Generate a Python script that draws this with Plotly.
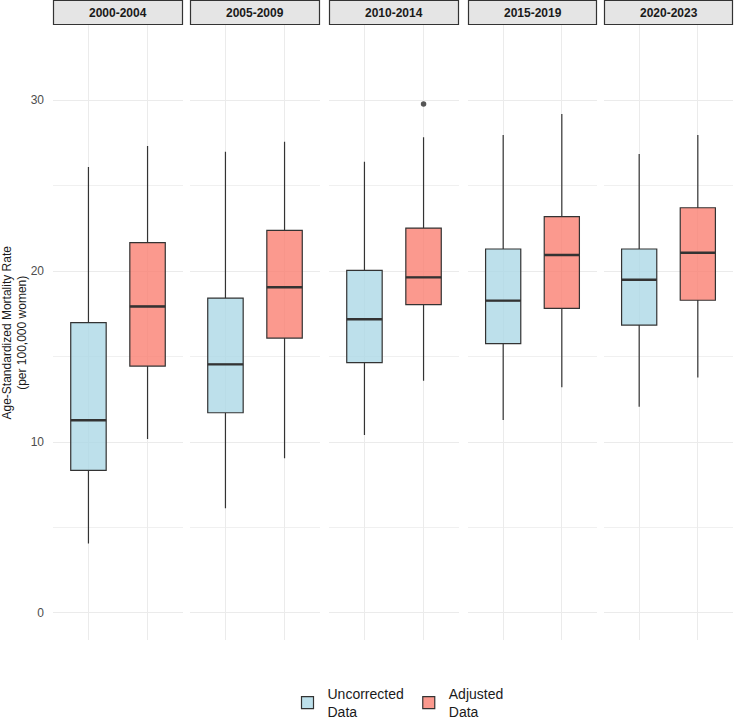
import plotly.graph_objects as go

periods = ["2000-2004", "2005-2009", "2010-2014", "2015-2019", "2020-2023"]
groups = ["Uncorrected Data", "Adjusted Data"]
legend_labels = ["Uncorrected<br>Data", "Adjusted<br>Data"]

unc_low = [4.07, 6.12, 10.41, 11.29, 12.06]
unc_q1 = [8.34, 11.71, 14.64, 15.75, 16.84]
unc_med = [11.27, 14.54, 17.18, 18.27, 19.49]
unc_q3 = [16.98, 18.42, 20.04, 21.29, 21.29]
unc_high = [26.08, 26.98, 26.39, 27.95, 26.84]

adj_low = [10.18, 9.05, 13.58, 13.20, 13.78]
adj_q1 = [14.44, 16.08, 18.03, 17.82, 18.29]
adj_med = [17.93, 19.05, 19.63, 20.94, 21.07]
adj_q3 = [21.66, 22.38, 22.51, 23.18, 23.70]
adj_high = [27.31, 27.56, 27.82, 29.18, 27.95]

outlier_period = ["2010-2014"]
outlier_group = ["Adjusted Data"]
outlier_value = [29.77]

y_ticks = [0, 10, 20, 30]

fills = ["rgba(173,216,230,0.8)", "rgba(250,128,114,0.8)"]
W, H = 735, 719
panel_px = [(53, 183), (190, 320), (329, 459), (468, 597), (604, 733)]
top_px, strip_px, bottom_px = 0, 25, 640
font_family = "Liberation Sans, Arial, sans-serif"

stats = {
    groups[0]: (unc_low, unc_q1, unc_med, unc_q3, unc_high),
    groups[1]: (adj_low, adj_q1, adj_med, adj_q3, adj_high),
}

fig = go.Figure()
layout = {}
shapes = []
annotations = []
box_w = 0.6

for i, period in enumerate(periods):
    k = i + 1
    xa = "x" if k == 1 else f"x{k}"
    ya = "y" if k == 1 else f"y{k}"
    for gi, g in enumerate(groups):
        low, q1, med, q3, high = stats[g]
        pos = gi + 1
        fig.add_trace(go.Box(
            x=[pos], q1=[q1[i]], median=[med[i]], q3=[q3[i]],
            lowerfence=[low[i]], upperfence=[high[i]],
            width=box_w, fillcolor=fills[gi],
            line=dict(color="#333333", width=1.2), whiskerwidth=0,
            name=legend_labels[gi], legendgroup=g, showlegend=(i == 0),
            boxpoints=False, xaxis=xa, yaxis=ya, hoverinfo="skip",
        ))
        fig.add_trace(go.Scatter(
            x=[pos - box_w / 2, pos + box_w / 2], y=[med[i], med[i]],
            mode="lines", line=dict(color="#333333", width=2.4),
            showlegend=False, hoverinfo="skip", xaxis=xa, yaxis=ya,
        ))
        ox = [gi + 1 for p, og in zip(outlier_period, outlier_group) if p == period and og == g]
        oy = [v for p, og, v in zip(outlier_period, outlier_group, outlier_value) if p == period and og == g]
        if ox:
            fig.add_trace(go.Scatter(
                x=ox, y=oy, mode="markers",
                marker=dict(color="#555555", size=5.5),
                showlegend=False, hoverinfo="skip", xaxis=xa, yaxis=ya,
            ))
    x0, x1 = panel_px[i]
    layout["xaxis" if k == 1 else f"xaxis{k}"] = dict(
        domain=[x0 / W, x1 / W], anchor=ya, range=[0.4, 2.6],
        tickvals=[1, 2], showticklabels=False, showgrid=True,
        gridcolor="#ebebeb", gridwidth=1, zeroline=False, showline=False, ticks="",
    )
    ydict = dict(
        domain=[1 - bottom_px / H, 1 - strip_px / H], anchor=xa,
        range=[-1.58, 34.39], tickvals=y_ticks, showgrid=True,
        gridcolor="#ebebeb", gridwidth=1, zeroline=False, showline=False, ticks="",
        minor=dict(dtick=5, tick0=0, showgrid=True, gridcolor="#f0f0f0", gridwidth=1),
        showticklabels=(k == 1), automargin=False,
        tickfont=dict(family=font_family, size=12, color="#4d4d4d"),
    )
    if k > 1:
        ydict["matches"] = "y"
    layout["yaxis" if k == 1 else f"yaxis{k}"] = ydict
    shapes.append(dict(
        type="rect", xref="paper", yref="paper",
        x0=(x0 + 0.5) / W, x1=(x1 - 0.5) / W,
        y0=1 - (strip_px - 0.5) / H, y1=1 - 0.5 / H,
        fillcolor="#e5e5e5", line=dict(color="#333333", width=1.2), layer="above",
    ))
    annotations.append(dict(
        text=f"<b>{period}</b>", xref="paper", yref="paper",
        x=(x0 + x1) / 2 / W, y=1 - strip_px / 2 / H, showarrow=False,
        xanchor="center", yanchor="middle",
        font=dict(family=font_family, size=12, color="#1a1a1a"),
    ))

annotations.append(dict(
    text="Age-Standardized Mortality Rate<br>(per 100,000 women)",
    xref="paper", yref="paper", x=14 / W, y=1 - (strip_px + bottom_px) / 2 / H,
    textangle=-90, showarrow=False, xanchor="center", yanchor="middle",
    font=dict(family=font_family, size=12, color="#1a1a1a"),
))

fig.update_layout(
    width=W, height=H, margin=dict(l=0, r=0, t=0, b=0, autoexpand=False),
    paper_bgcolor="white", plot_bgcolor="white",
    font=dict(family=font_family, size=12, color="#1a1a1a"),
    shapes=shapes, annotations=annotations,
    legend=dict(
        orientation="h", x=398 / W, xanchor="center", y=-9 / H, yanchor="bottom",
        font=dict(family=font_family, size=14, color="#1a1a1a"),
        bgcolor="rgba(0,0,0,0)", itemwidth=30,
    ),
    **layout,
)
fig.update_yaxes(ticklabelstandoff=8)

fig.write_html("out.html")
